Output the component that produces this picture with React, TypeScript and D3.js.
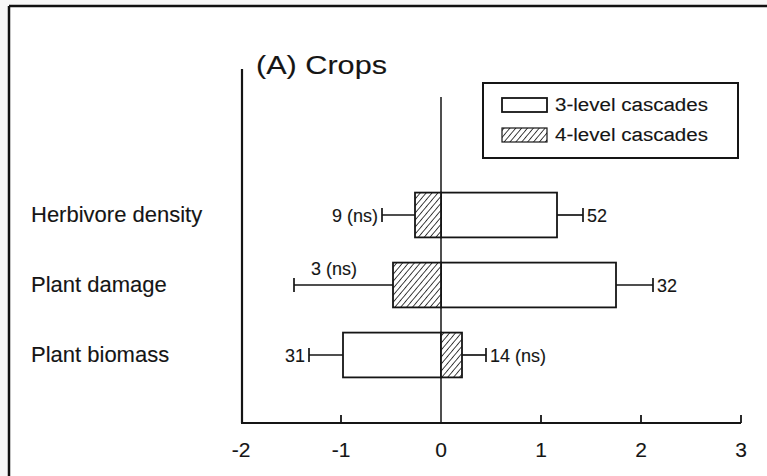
import React from "react";
import * as d3 from "d3";

const categories = ["Herbivore density", "Plant damage", "Plant biomass"];
const threeLevel = [1.16, 1.75, -0.98];
const threeLevelErr = [1.42, 2.12, -1.32];
const threeLevelN = ["52", "32", "31"];
const fourLevel = [-0.26, -0.48, 0.21];
const fourLevelErr = [-0.59, -1.47, 0.45];
const fourLevelN = ["9 (ns)", "3 (ns)", "14 (ns)"];
const xTicks = [-2, -1, 0, 1, 2, 3];
const legendLabels = ["3-level cascades", "4-level cascades"];

const W = 767;
const H = 476;
const FONT = "'Liberation Sans', Arial, Helvetica, sans-serif";
const INK = "#151515";
const TS = { stroke: INK, strokeWidth: 0.12 } as const;

export default function App() {
  const x = d3.scaleLinear().domain([-2, 3]).range([241, 741]);
  const y = d3
    .scaleBand<string>()
    .domain(categories)
    .range([180, 390])
    .paddingInner(0.36)
    .paddingOuter(0.18);
  const axisY = 423;
  const bw = y.bandwidth();

  const bar = (v: number) => ({ x: Math.min(x(0), x(v)), w: Math.abs(x(v) - x(0)) });

  const labelFor = (i: number, err: number, text: string, series: number) => {
    const cy = (y(categories[i]) as number) + bw / 2;
    const ex = x(err);
    if (series === 4 && i === 1) {
      return (
        <text key={`l${series}${i}`} x={ex + 17} y={cy - 10} fontSize={18} fill={INK} {...TS}>
          {text}
        </text>
      );
    }
    const right = err > 0;
    return (
      <text
        key={`l${series}${i}`}
        x={right ? ex + 4 : ex - 4}
        y={cy + 7}
        fontSize={18}
        fill={INK}
        textAnchor={right ? "start" : "end"}
        {...TS}
      >
        {text}
      </text>
    );
  };

  const errBar = (i: number, v: number, err: number, key: string) => {
    const cy = (y(categories[i]) as number) + bw / 2;
    return (
      <g key={key} stroke={INK} strokeWidth={1.7}>
        <line x1={x(v)} x2={x(err)} y1={cy} y2={cy} />
        <line x1={x(err)} x2={x(err)} y1={cy - 7} y2={cy + 7} />
      </g>
    );
  };

  return (
    <div style={{ position: "absolute", left: 0, top: 0 }}>
      <svg width={W} height={H} style={{ display: "block" }} fontFamily={FONT}>
        <defs>
          <pattern id="hatch" patternUnits="userSpaceOnUse" width={4.5} height={4.5} patternTransform="rotate(40)">
            <rect width={4.5} height={4.5} fill="#fff" />
            <line x1={0} y1={0} x2={0} y2={4.5} stroke={INK} strokeWidth={1.6} />
          </pattern>
        </defs>
        <rect x={0} y={0} width={W} height={H} fill="#f7f7f7" />
        <rect x={9} y={6} width={W - 9} height={H - 6} fill="#fff" />
        <line x1={9} x2={W} y1={6} y2={6} stroke="#111" strokeWidth={2.5} />
        <line x1={9} x2={9} y1={6} y2={H} stroke="#111" strokeWidth={2.5} />

        <text x={256} y={74} fontSize={25} fill={INK} textLength={131} lengthAdjust="spacingAndGlyphs" {...TS}>
          (A) Crops
        </text>

        <line x1={242} x2={242} y1={69} y2={axisY} stroke={INK} strokeWidth={2.2} />
        <line x1={x(-2)} x2={x(3)} y1={axisY} y2={axisY} stroke={INK} strokeWidth={2.2} />
        <line x1={x(0)} x2={x(0)} y1={97} y2={axisY} stroke={INK} strokeWidth={1.5} />
        {xTicks.map((t) => (
          <g key={t}>
            {t !== -2 && t !== 0 && (
              <line x1={x(t)} x2={x(t)} y1={axisY} y2={axisY - 8} stroke={INK} strokeWidth={1.8} />
            )}
            <text x={x(t)} y={457} fontSize={21} textAnchor="middle" fill={INK} {...TS}>
              {t}
            </text>
          </g>
        ))}

        {categories.map((c) => (
          <text
            key={c}
            x={31}
            y={(y(c) as number) + bw / 2 + 7}
            fontSize={22}
            fill={INK}
            {...TS}
          >
            {c}
          </text>
        ))}

        {categories.map((c, i) => errBar(i, threeLevel[i], threeLevelErr[i], `e3${i}`))}
        {categories.map((c, i) => errBar(i, fourLevel[i], fourLevelErr[i], `e4${i}`))}

        {categories.map((c, i) => {
          const b = bar(threeLevel[i]);
          return (
            <rect key={`b3${i}`} x={b.x} y={y(c)} width={b.w} height={bw} fill="#fff" stroke={INK} strokeWidth={1.8} />
          );
        })}
        {categories.map((c, i) => {
          const b = bar(fourLevel[i]);
          return (
            <rect key={`b4${i}`} x={b.x} y={y(c)} width={b.w} height={bw} fill="url(#hatch)" stroke={INK} strokeWidth={1.8} />
          );
        })}

        {categories.map((c, i) => labelFor(i, threeLevelErr[i], threeLevelN[i], 3))}
        {categories.map((c, i) => labelFor(i, fourLevelErr[i], fourLevelN[i], 4))}

        <rect x={483} y={83} width={255} height={75} fill="#fff" stroke={INK} strokeWidth={2} />
        <rect x={502} y={98} width={45} height={14} fill="#fff" stroke={INK} strokeWidth={1.8} />
        <rect x={502} y={128} width={45} height={14} fill="url(#hatch)" stroke={INK} strokeWidth={1.2} />
        {legendLabels.map((l, i) => (
          <text key={l} x={555} y={111 + i * 30} fontSize={18} fill={INK} textLength={153} lengthAdjust="spacingAndGlyphs" {...TS}>
            {l}
          </text>
        ))}
      </svg>
    </div>
  );
}
